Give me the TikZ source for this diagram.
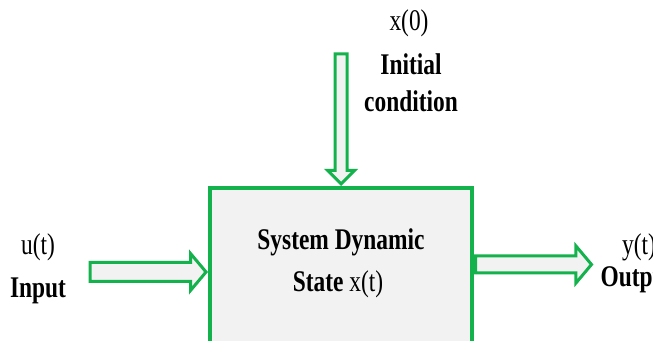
\documentclass[tikz,border=0pt]{standalone}
\usepackage{fontspec}
\setmainfont{Liberation Serif}
\usetikzlibrary{shapes.arrows}
\definecolor{boxgreen}{RGB}{20,178,76}
\definecolor{boxgray}{RGB}{242,242,242}

\begin{document}
\begin{tikzpicture}[x=0.5pt,y=-0.5pt,
  txt/.style={font=\fontsize{15}{18}\selectfont, xscale=0.78, anchor=base, inner sep=0pt},
  bf/.style={txt, font=\fontsize{15}{18}\selectfont\bfseries},
  hollow/.style={single arrow, draw=boxgreen, fill=boxgray, line width=1.5pt,
    inner xsep=0pt, minimum width=0pt, anchor=tip}]
  \useasboundingbox (0,0) rectangle (653,341);
  \clip (0,0) rectangle (653,341);
  % system block, runs off the bottom
  \node[draw=boxgreen, fill=boxgray, line width=2pt, minimum width=131pt,
    minimum height=100pt, anchor=north] (sys) at (341,186) {};
  \node[bf] (sysA) at (341,250) {System Dynamic};
  \node[bf] (sysB) at (338,292) {State \mdseries x(t)};
  % initial condition
  \node[hollow, rotate=-90, minimum height=65pt, inner ysep=2.25pt,
    single arrow head extend=3.75pt] (arrIC) at (sys.north) {};
  \node[txt] (x0) at (409,31) {x(0)};
  \node[bf] (ic1) at (411,75) {Initial};
  \node[bf] (ic2) at (411,112) {condition};
  % input
  \node[hollow, minimum height=58pt, inner ysep=4pt,
    single arrow head extend=4.5pt, single arrow tip angle=100] (arrIn) at (sys.west |- 0,272) {};
  \node[txt] (u) at (38,255) {u(t)};
  \node[bf] (inp) at (38,298) {Input};
  % output
  \node[hollow, anchor=tail, minimum height=58pt, inner ysep=3.5pt,
    single arrow head extend=5pt, single arrow tip angle=100] (arrOut) at (sys.east |- 0,264.5) {};
  \node[txt] (y) at (639,255) {y(t)};
  \node[bf] (outp) at (637,287) {Output};
\end{tikzpicture}
\end{document}
